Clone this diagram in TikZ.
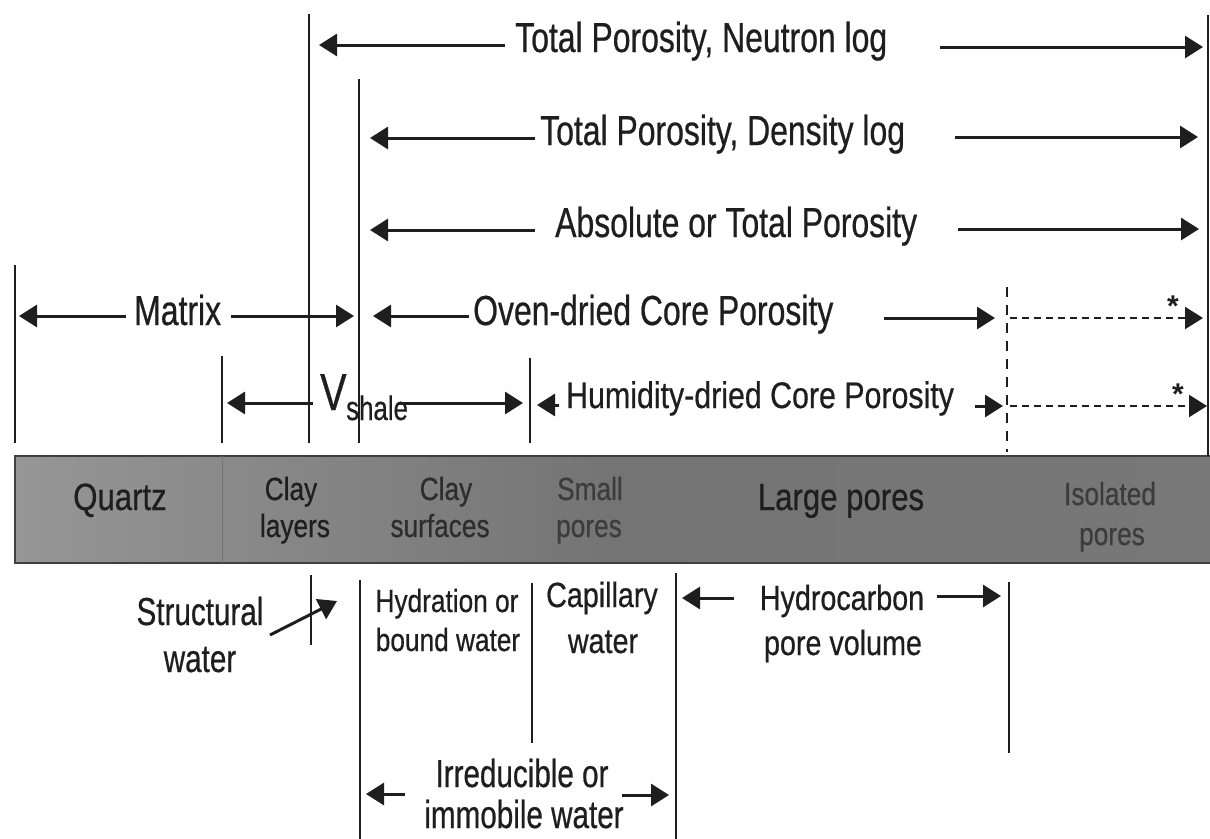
\documentclass[tikz,border=0pt]{standalone}
\usepackage{fontspec}
\usetikzlibrary{arrows.meta}
\newfontfamily\nfa[FakeStretch=0.76,FakeBold=0.5]{Liberation Sans}
\newfontfamily\nfb[FakeStretch=0.82,FakeBold=0.5]{Liberation Sans}
\definecolor{bandL}{RGB}{150,150,150}
\definecolor{bandM}{RGB}{116,116,116}
\definecolor{bandR}{RGB}{120,120,120}
\definecolor{btdark}{RGB}{30,30,30}
\definecolor{btmid}{RGB}{45,45,45}
\definecolor{btlight}{RGB}{60,60,60}
\definecolor{ink}{RGB}{30,30,30}
\begin{document}
\begin{tikzpicture}[x=1pt,y=-1pt,
  vln/.style={line width=1.6pt,ink},
  dvln/.style={line width=1.6pt,ink,dash pattern=on 10pt off 8pt},
  arr/.style={line width=3pt,ink,-{Triangle[length=18pt,width=22pt]}},
  darr/.style={line width=2.4pt,ink,dash pattern=on 7pt off 5pt,-{Triangle[length=18pt,width=22pt]}},
  lbl/.style={inner sep=0pt,text=ink,font=\nfa\fontsize{42}{50}\selectfont},
  hlbl/.style={inner sep=0pt,text=ink,font=\nfb\fontsize{37}{44}\selectfont},
  bigband/.style={inner sep=0pt,font=\nfb\fontsize{38}{44}\selectfont},
  smallband/.style={inner sep=0pt,font=\nfb\fontsize{32}{38}\selectfont},
  botA/.style={inner sep=0pt,text=ink,font=\nfa\fontsize{39}{46}\selectfont},
  botB/.style={inner sep=0pt,text=ink,font=\nfb\fontsize{32}{38}\selectfont},
  botC/.style={inner sep=0pt,text=ink,font=\nfb\fontsize{35}{42}\selectfont},
  starlbl/.style={inner sep=0pt,text=ink,font=\fontspec{Liberation Sans Bold}\fontsize{30}{30}\selectfont}
]
\useasboundingbox (0,0) rectangle (1210,838);
\fill[white] (0,0) rectangle (1210,838);

% ---- band ----
\shade[left color=bandL, right color=bandR, middle color=bandM] (15,456) rectangle (1212,563);
\draw[line width=1.8pt,black!75] (15,456) rectangle (1212,563);
\draw[line width=1pt,black!55] (222,456) -- (222,563);

% ---- vertical lines above the band ----
\coordinate (v1t) at (15,265);   \coordinate (v1b) at (15,443);
\coordinate (v2t) at (222,356);  \coordinate (v2b) at (222,443);
\coordinate (v3t) at (309,14);   \coordinate (v3b) at (309,443);
\coordinate (v4t) at (359,79);   \coordinate (v4b) at (359,443);
\coordinate (v5t) at (530,358);  \coordinate (v5b) at (530,443);
\coordinate (v6t) at (1007,287); \coordinate (v6b) at (1007,452);
\coordinate (v7t) at (1208,15);  \coordinate (v7b) at (1208,456);
\draw[vln] (v1t) -- (v1b);
\draw[vln] (v2t) -- (v2b);
\draw[vln] (v3t) -- (v3b);
\draw[vln] (v4t) -- (v4b);
\draw[vln] (v5t) -- (v5b);
\draw[dvln] (v6t) -- (v6b);
\draw[vln] (v7t) -- (v7b);

% ---- row 1: neutron ----
\node[lbl,anchor=base west] (tneu) at (515,52) {Total Porosity, Neutron log};
\coordinate (a1s) at (505,45);  \coordinate (a1e) at (319,45);
\coordinate (a2s) at (940,47);  \coordinate (a2e) at (1203,47);
\draw[arr] (a1s) -- (a1e);
\draw[arr] (a2s) -- (a2e);

% ---- row 2: density ----
\node[lbl,anchor=base west] (tden) at (540,145) {Total Porosity, Density log};
\coordinate (b1s) at (535,138); \coordinate (b1e) at (370,138);
\coordinate (b2s) at (955,137); \coordinate (b2e) at (1198,137);
\draw[arr] (b1s) -- (b1e);
\draw[arr] (b2s) -- (b2e);

% ---- row 3: absolute ----
\node[lbl,anchor=base west] (tabs) at (555,237) {Absolute or Total Porosity};
\coordinate (c1s) at (535,230); \coordinate (c1e) at (370,230);
\coordinate (c2s) at (958,229); \coordinate (c2e) at (1199,229);
\draw[arr] (c1s) -- (c1e);
\draw[arr] (c2s) -- (c2e);

% ---- row 4: matrix / oven-dried ----
\node[lbl,anchor=base west] (tmat) at (134,325) {Matrix};
\node[lbl,anchor=base west] (toven) at (473,325) {Oven-dried Core Porosity};
\coordinate (d1s) at (126,316); \coordinate (d1e) at (19,316);
\coordinate (d2s) at (231,316); \coordinate (d2e) at (354,316);
\coordinate (d3s) at (469,316); \coordinate (d3e) at (373,316);
\coordinate (d4s) at (884,318); \coordinate (d4e) at (995,318);
\coordinate (d5s) at (1010,318); \coordinate (d5e) at (1203,318);
\draw[arr] (d1s) -- (d1e);
\draw[arr] (d2s) -- (d2e);
\draw[arr] (d3s) -- (d3e);
\draw[arr] (d4s) -- (d4e);
\draw[darr] (d5s) -- (d5e);
\node[starlbl,anchor=base] (star1) at (1173,316) {*};

% ---- row 5: Vshale / humidity-dried ----
\node[inner sep=0pt,anchor=base west,text=ink,font=\nfa\fontsize{52}{60}\selectfont] (tv) at (320,410) {V};
\node[inner sep=0pt,anchor=base west,text=ink,font=\nfa\fontsize{34}{40}\selectfont] (tsh) at (346,420) {shale};
\node[hlbl,anchor=base west] (thum) at (566,408) {Humidity-dried Core Porosity};
\coordinate (e1s) at (313,403); \coordinate (e1e) at (227,403);
\coordinate (e2s) at (398,403); \coordinate (e2e) at (523,403);
\coordinate (e3s) at (559,405); \coordinate (e3e) at (537,405);
\coordinate (e4s) at (975,406); \coordinate (e4e) at (1003,406);
\coordinate (e5s) at (1010,406); \coordinate (e5e) at (1207,406);
\draw[arr] (e1s) -- (e1e);
\draw[arr] (e2s) -- (e2e);
\draw[arr] (e3s) -- (e3e);
\draw[arr] (e4s) -- (e4e);
\draw[darr] (e5s) -- (e5e);
\node[starlbl,anchor=base] (star2) at (1178,404) {*};

% ---- band labels ----
\node[bigband,anchor=base,text=btdark] (qz) at (120,510) {Quartz};
\node[smallband,anchor=base] (cl1) at (291,500) {\color{btdark}Clay};
\node[smallband,anchor=base] (cl2) at (295,537) {\color{btdark}layers};
\node[smallband,anchor=base] (cs1) at (446,500) {\color{btmid}Clay};
\node[smallband,anchor=base] (cs2) at (440,537) {\color{btmid}surfaces};
\node[smallband,anchor=base] (sp1) at (590,500) {\color{btlight}Small};
\node[smallband,anchor=base] (sp2) at (589,537) {\color{btlight}pores};
\node[bigband,anchor=base,text=btdark] (lp) at (841,510) {Large pores};
\node[smallband,anchor=base] (ip1) at (1110,505) {\color{btlight}Isolated};
\node[smallband,anchor=base] (ip2) at (1112,545) {\color{btlight}pores};

% ---- lower part ----
\coordinate (w1t) at (311,575); \coordinate (w1b) at (311,645);
\coordinate (w2t) at (360,580); \coordinate (w2b) at (360,845);
\coordinate (w3t) at (532,583); \coordinate (w3b) at (532,743);
\coordinate (w4t) at (676,573); \coordinate (w4b) at (676,845);
\coordinate (w5t) at (1009,582); \coordinate (w5b) at (1009,753);
\draw[vln] (w1t) -- (w1b);
\draw[vln] (w2t) -- (w2b);
\draw[vln] (w3t) -- (w3b);
\draw[vln] (w4t) -- (w4b);
\draw[vln] (w5t) -- (w5b);

\node[botA,anchor=base] (st1) at (200,625) {Structural};
\node[botA,anchor=base] (st2) at (200,672) {water};
\coordinate (f1s) at (270,635); \coordinate (f1e) at (337,601);
\draw[arr] (f1s) -- (f1e);

\node[botB,anchor=base] (hy1) at (447,612) {Hydration or};
\node[botB,anchor=base] (hy2) at (448,651) {bound water};
\node[botC,anchor=base] (ca1) at (602,607) {Capillary};
\node[botC,anchor=base] (ca2) at (603,653) {water};
\node[botC,anchor=base] (hc1) at (842,610) {Hydrocarbon};
\node[botC,anchor=base] (hc2) at (843,655) {pore volume};
\coordinate (g1s) at (734,598); \coordinate (g1e) at (682,598);
\coordinate (g2s) at (937,596); \coordinate (g2e) at (1001,596);
\draw[arr] (g1s) -- (g1e);
\draw[arr] (g2s) -- (g2e);

\node[botA,anchor=base] (ir1) at (522,787) {Irreducible or};
\node[botA,anchor=base] (ir2) at (524,828) {immobile water};
\coordinate (h1s) at (405,794); \coordinate (h1e) at (366,794);
\coordinate (h2s) at (622,795); \coordinate (h2e) at (669,795);
\draw[arr] (h1s) -- (h1e);
\draw[arr] (h2s) -- (h2e);
\end{tikzpicture}
\end{document}
